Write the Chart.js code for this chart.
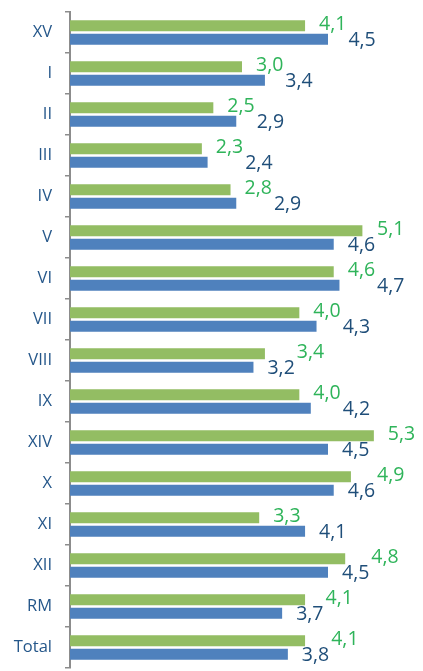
<!DOCTYPE html>
<html>
<head>
<meta charset="utf-8">
<script src="https://cdn.jsdelivr.net/npm/chart.js@4/dist/chart.umd.min.js"></script>
<style>
  html, body { margin: 0; padding: 0; background: #fff; }
  #wrap { width: 423px; height: 671px; position: relative; }
</style>
</head>
<body>
<div id="wrap"><canvas id="chart"></canvas></div>
<script>
const categories = ['XV', 'I', 'II', 'III', 'IV', 'V', 'VI', 'VII', 'VIII', 'IX', 'XIV', 'X', 'XI', 'XII', 'RM', 'Total'];
const greenValues = [4.1, 3.0, 2.5, 2.3, 2.8, 5.1, 4.6, 4.0, 3.4, 4.0, 5.3, 4.9, 3.3, 4.8, 4.1, 4.1];
const blueValues = [4.5, 3.4, 2.9, 2.4, 2.9, 4.6, 4.7, 4.3, 3.2, 4.2, 4.5, 4.6, 4.1, 4.5, 3.7, 3.8];

const greenBar = '#93bd63';
const blueBar = '#4f81bd';
const greenText = '#2fb45a';
const blueText = '#1f4e79';

const fmt = v => v.toFixed(1).replace('.', ',');

// value labels: the shorter bar's label sits just after its bar,
// the longer bar's label is pushed right past the other label if needed
const valueLabels = {
    id: 'valueLabels',
    afterDatasetsDraw(chart) {
        const ctx = chart.ctx;
        const g = chart.getDatasetMeta(0).data;
        const b = chart.getDatasetMeta(1).data;
        ctx.save();
        ctx.font = '19.5px "Open Sans"';
        ctx.textBaseline = 'middle';
        ctx.textAlign = 'left';
        const gap = 14;
        for (let i = 0; i < categories.length; i++) {
            const gt = fmt(greenValues[i]);
            const bt = fmt(blueValues[i]);
            const gw = ctx.measureText(gt).width;
            const bw = ctx.measureText(bt).width;
            let gx, bx;
            if (greenValues[i] <= blueValues[i]) {
                gx = g[i].x + gap;
                bx = Math.max(b[i].x + gap, gx + gw + 2);
            } else {
                bx = b[i].x + gap;
                gx = Math.max(g[i].x + gap, bx + bw + 2);
            }
            ctx.fillStyle = greenText;
            ctx.fillText(gt, gx, g[i].y - 1);
            ctx.fillStyle = blueText;
            ctx.fillText(bt, bx, b[i].y + 1);
        }
        ctx.restore();
    }
};

new Chart(document.getElementById('chart'), {
    type: 'bar',
    data: {
        labels: categories,
        datasets: [
            {
                label: 'Green',
                data: greenValues,
                backgroundColor: greenBar,
                categoryPercentage: 0.66,
                barPercentage: 0.82
            },
            {
                label: 'Blue',
                data: blueValues,
                backgroundColor: blueBar,
                categoryPercentage: 0.66,
                barPercentage: 0.82
            }
        ]
    },
    options: {
        indexAxis: 'y',
        responsive: true,
        maintainAspectRatio: false,
        animation: false,
        layout: { padding: { top: 12, bottom: 3, right: 9, left: 0 } },
        plugins: {
            legend: { display: false },
            tooltip: { enabled: false }
        },
        scales: {
            x: {
                display: false,
                min: 0,
                max: 6
            },
            y: {
                afterFit: scale => {
                    scale.width = 70;
                    scale.paddingTop = 0;
                    scale.paddingBottom = 0;
                },
                grid: {
                    drawOnChartArea: false,
                    drawTicks: true,
                    tickLength: 5,
                    color: '#8c8c8c',
                    lineWidth: 1.5
                },
                border: { display: true, color: '#8c8c8c', width: 2 },
                ticks: {
                    color: '#25578a',
                    padding: 13,
                    font: { family: '"Open Sans"', size: 16.5 }
                }
            }
        }
    },
    plugins: [valueLabels]
});
</script>
</body>
</html>
